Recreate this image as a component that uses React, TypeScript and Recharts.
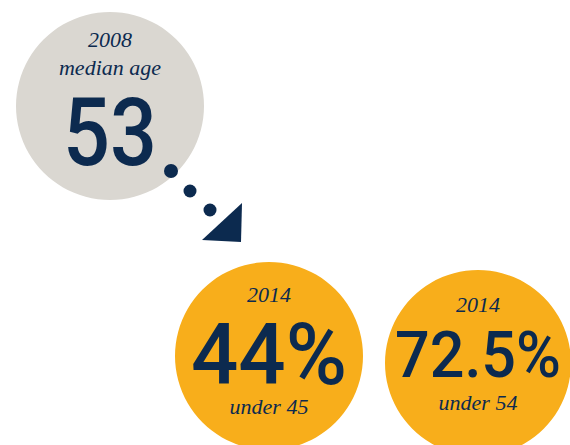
import React from 'react';
import { PieChart, Pie, Cell, Label } from 'recharts';

// badge contents
const years = ['2008', '2014', '2014'];
const figures = ['53', '44%', '72.5%'];
const captions = ['median age', 'under 45', 'under 54'];
const fills = ['#dad7d1', '#f8ae1b', '#f8ae1b'];

const NAVY = '#0c2a4f';
const SERIF = '"Liberation Serif", "DejaVu Serif", serif';
const SANS = 'Roboto, "DejaVu Sans", sans-serif';

// layout per badge: centre, radius, text offsets
const layout = [
  { cx: 110, cy: 106, r: 94, yearDy: -59, capDy: -31, figDy: 59, figSize: 95, figLen: 94 },
  { cx: 269, cy: 356, r: 94, yearDy: -54, capDy: 58, figDy: 28, figSize: 86, figLen: 156 },
  { cx: 478, cy: 363, r: 93, yearDy: -51, capDy: 47, figDy: 14, figSize: 64, figLen: 166 },
];

const badgeLabel = (i: number) => () => {
  const l = layout[i];
  const cx = l.cx;
  const cy = l.cy;
  return (
    <g>
      <text x={cx} y={cy + l.yearDy} textAnchor="middle" fontFamily={SERIF} fontStyle="italic" fontSize={22} fill={NAVY}>
        {years[i]}
      </text>
      <text x={cx} y={cy + l.capDy} textAnchor="middle" fontFamily={SERIF} fontStyle="italic" fontSize={22} fill={NAVY}>
        {captions[i]}
      </text>
      <text
        x={cx}
        y={cy + l.figDy}
        textAnchor="middle"
        fontFamily={SANS}
        fontWeight={500}
        fontSize={l.figSize}
        fill={NAVY}
        textLength={l.figLen}
        lengthAdjust="spacingAndGlyphs"
      >
        {figures[i]}
      </text>
      {i === 0 && (
        <g fill={NAVY}>
          <circle cx={cx + 61} cy={cy + 65} r={7} />
          <circle cx={cx + 80} cy={cy + 85} r={6.5} />
          <circle cx={cx + 100} cy={cy + 104} r={6.5} />
          <polygon points={`${cx + 92},${cy + 134} ${cx + 132},${cy + 97} ${cx + 131},${cy + 136}`} />
        </g>
      )}
    </g>
  );
};

const App: React.FC = () => {
  return (
    <div style={{ position: 'absolute', left: 0, top: 0, background: '#fff' }}>
      <PieChart width={570} height={445} margin={{ top: 0, right: 0, bottom: 0, left: 0 }}>
        {layout.map((l, i) => (
          <Pie
            key={i}
            data={[{ name: figures[i], value: 1 }]}
            dataKey="value"
            cx={l.cx}
            cy={l.cy}
            innerRadius={0}
            outerRadius={l.r}
            startAngle={90}
            endAngle={450}
            stroke="none"
            isAnimationActive={false}
          >
            <Cell fill={fills[i]} />
            <Label content={badgeLabel(i)} position="center" />
          </Pie>
        ))}
      </PieChart>
    </div>
  );
};

export default App;
